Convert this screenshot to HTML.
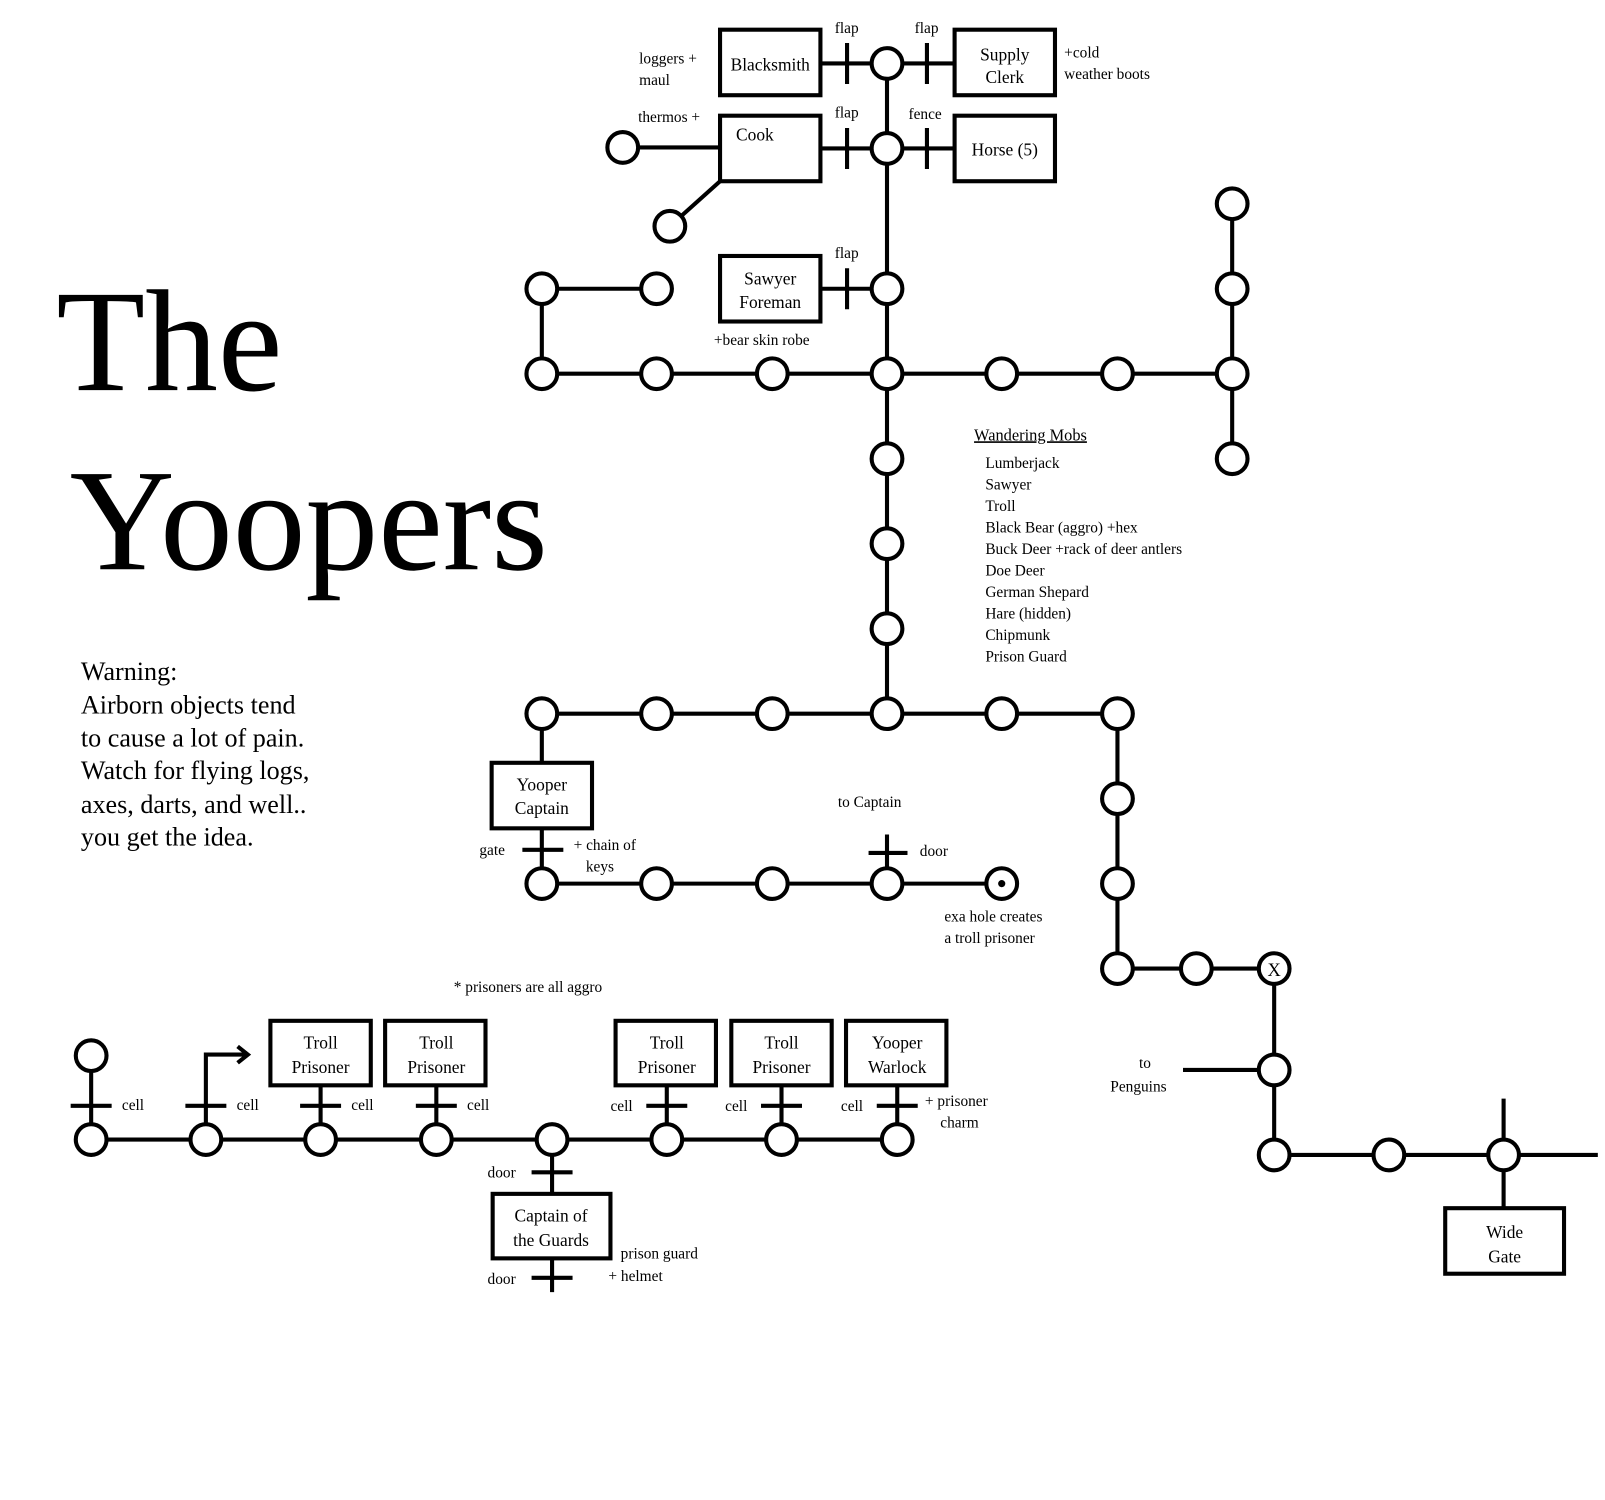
<!DOCTYPE html>
<html><head><style>html,body{margin:0;padding:0;background:#fff}svg{display:block}</style></head><body>
<svg width="1605" height="1500" viewBox="0 0 1567 1465" preserveAspectRatio="none" xmlns="http://www.w3.org/2000/svg" font-family="Liberation Serif, serif">
<g stroke="#000" stroke-width="4" fill="none">
<path d="M866 62V697M529 365H1203M529 282V365M529 282H641M1203 199V448"/>
<path d="M801 62H932M801 145H932M801 282H866M608 144H703M654 221L703 177"/>
<path d="M529 697H1091V946H1244V1128H1560M1155 1045H1244M1468 1073V1180"/>
<path d="M529 697V745M529 809V863H978M866 815V863"/>
<path d="M89 1031V1113H876M201 1113V1030H240M232 1022L242 1030L232 1038M313 1060V1113M426 1060V1113M651 1060V1113M763 1060V1113M876 1060V1113M539 1113V1166M539 1229V1262"/>
<path d="M827 42V82M905 42V82M827 125V165M905 125V165M827 262V302"/>
<path d="M510 830H550M848 833H886"/>
<path d="M69 1080H109M181 1080H221M293 1080H333M406 1080H446M631 1080H671M743 1080H783M856 1080H896M519 1145H559M519 1248H559"/>
<rect x="703" y="29" width="98" height="64" fill="#fff"/>
<rect x="932" y="29" width="98" height="64" fill="#fff"/>
<rect x="703" y="113" width="98" height="64" fill="#fff"/>
<rect x="932" y="113" width="98" height="64" fill="#fff"/>
<rect x="703" y="250" width="98" height="64" fill="#fff"/>
<rect x="480" y="745" width="98" height="64" fill="#fff"/>
<rect x="264" y="997" width="98" height="63" fill="#fff"/>
<rect x="376" y="997" width="98" height="63" fill="#fff"/>
<rect x="601" y="997" width="98" height="63" fill="#fff"/>
<rect x="714" y="997" width="98" height="63" fill="#fff"/>
<rect x="826" y="997" width="98" height="63" fill="#fff"/>
<rect x="481" y="1166" width="115" height="63" fill="#fff"/>
<rect x="1411" y="1180" width="116" height="64" fill="#fff"/>
<g fill="#fff">
<circle cx="866" cy="62" r="15"/><circle cx="866" cy="145" r="15"/><circle cx="866" cy="282" r="15"/>
<circle cx="608" cy="144" r="15"/><circle cx="654" cy="221" r="15"/>
<circle cx="529" cy="282" r="15"/><circle cx="641" cy="282" r="15"/>
<circle cx="529" cy="365" r="15"/><circle cx="641" cy="365" r="15"/><circle cx="754" cy="365" r="15"/><circle cx="866" cy="365" r="15"/><circle cx="978" cy="365" r="15"/><circle cx="1091" cy="365" r="15"/><circle cx="1203" cy="365" r="15"/>
<circle cx="1203" cy="199" r="15"/><circle cx="1203" cy="282" r="15"/><circle cx="1203" cy="448" r="15"/>
<circle cx="866" cy="448" r="15"/><circle cx="866" cy="531" r="15"/><circle cx="866" cy="614" r="15"/>
<circle cx="529" cy="697" r="15"/><circle cx="641" cy="697" r="15"/><circle cx="754" cy="697" r="15"/><circle cx="866" cy="697" r="15"/><circle cx="978" cy="697" r="15"/><circle cx="1091" cy="697" r="15"/>
<circle cx="1091" cy="780" r="15"/><circle cx="1091" cy="863" r="15"/><circle cx="1091" cy="946" r="15"/><circle cx="1168" cy="946" r="15"/><circle cx="1244" cy="946" r="15"/>
<circle cx="1244" cy="1045" r="15"/><circle cx="1244" cy="1128" r="15"/><circle cx="1356" cy="1128" r="15"/><circle cx="1468" cy="1128" r="15"/>
<circle cx="529" cy="863" r="15"/><circle cx="641" cy="863" r="15"/><circle cx="754" cy="863" r="15"/><circle cx="866" cy="863" r="15"/><circle cx="978" cy="863" r="15"/>
<circle cx="89" cy="1031" r="15"/>
<circle cx="89" cy="1113" r="15"/><circle cx="201" cy="1113" r="15"/><circle cx="313" cy="1113" r="15"/><circle cx="426" cy="1113" r="15"/><circle cx="539" cy="1113" r="15"/><circle cx="651" cy="1113" r="15"/><circle cx="763" cy="1113" r="15"/><circle cx="876" cy="1113" r="15"/>
</g>
</g>
<circle cx="978" cy="863" r="3.5" fill="#000"/>
<text x="1244" y="953" font-size="18" text-anchor="middle">X</text>
<g font-size="17" text-anchor="middle">
<text x="752" y="69">Blacksmith</text>
<text x="981" y="59">Supply</text><text x="981" y="81">Clerk</text>
<text x="737" y="137">Cook</text>
<text x="981" y="152">Horse (5)</text>
<text x="752" y="278">Sawyer</text><text x="752" y="301">Foreman</text>
<text x="529" y="772">Yooper</text><text x="529" y="795">Captain</text>
<text x="313" y="1024">Troll</text><text x="313" y="1048">Prisoner</text>
<text x="426" y="1024">Troll</text><text x="426" y="1048">Prisoner</text>
<text x="651" y="1024">Troll</text><text x="651" y="1048">Prisoner</text>
<text x="763" y="1024">Troll</text><text x="763" y="1048">Prisoner</text>
<text x="876" y="1024">Yooper</text><text x="876" y="1048">Warlock</text>
<text x="538" y="1193">Captain of</text><text x="538" y="1217">the Guards</text>
<text x="1469" y="1209">Wide</text><text x="1469" y="1233">Gate</text>
</g>
<g font-size="15">
<text x="815" y="32">flap</text><text x="893" y="32">flap</text>
<text x="815" y="115">flap</text><text x="887" y="116">fence</text>
<text x="815" y="252">flap</text>
<text x="624" y="62">loggers +</text><text x="624" y="83">maul</text>
<text x="1039" y="56">+cold</text><text x="1039" y="77">weather boots</text>
<text x="623" y="119">thermos +</text>
<text x="697" y="337">+bear skin robe</text>
<text x="951" y="430" text-decoration="underline" font-size="16">Wandering Mobs</text>
<text x="962" y="457">Lumberjack</text>
<text x="962" y="478">Sawyer</text>
<text x="962" y="499">Troll</text>
<text x="962" y="520">Black Bear (aggro) +hex</text>
<text x="962" y="541">Buck Deer  +rack of deer antlers</text>
<text x="962" y="562">Doe Deer</text>
<text x="962" y="583">German Shepard</text>
<text x="962" y="604">Hare (hidden)</text>
<text x="962" y="625">Chipmunk</text>
<text x="962" y="646">Prison Guard</text>
<text x="818" y="788">to Captain</text>
<text x="898" y="836">door</text>
<text x="468" y="835">gate</text>
<text x="560" y="830">+ chain of</text><text x="572" y="851">keys</text>
<text x="922" y="900">exa hole creates</text><text x="922" y="921">a troll prisoner</text>
<text x="443" y="969">* prisoners are all aggro</text>
<text x="1112" y="1043">to</text><text x="1084" y="1066">Penguins</text>
<text x="119" y="1084">cell</text><text x="231" y="1084">cell</text><text x="343" y="1084">cell</text><text x="456" y="1084">cell</text>
<text x="596" y="1085">cell</text><text x="708" y="1085">cell</text><text x="821" y="1085">cell</text>
<text x="903" y="1080">+ prisoner</text><text x="918" y="1101">charm</text>
<text x="476" y="1150">door</text><text x="476" y="1254">door</text>
<text x="606" y="1229">prison guard</text><text x="594" y="1251">+ helmet</text>
</g>
<g font-size="142">
<text x="55" y="381">The</text>
<text x="68" y="556">Yoopers</text>
</g>
<g font-size="25.5">
<text x="79" y="664">Warning:</text>
<text x="79" y="697">Airborn objects tend</text>
<text x="79" y="729">to cause a lot of pain.</text>
<text x="79" y="761">Watch for flying logs,</text>
<text x="79" y="794">axes, darts, and well..</text>
<text x="79" y="826">you get the idea.</text>
</g>
</svg>
</body></html>
